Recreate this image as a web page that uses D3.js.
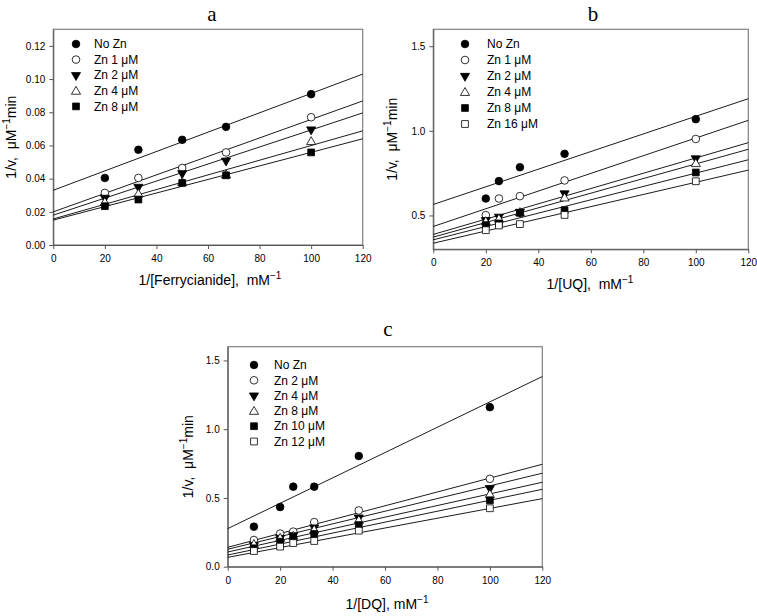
<!DOCTYPE html>
<html>
<head>
<meta charset="utf-8">
<script src="https://cdn.jsdelivr.net/npm/d3@7"></script>
<style>
  html, body { margin: 0; padding: 0; background: #fff; }
  svg { display: block; }
  text { white-space: pre; }
</style>
</head>
<body>
<svg id="chart" width="757" height="616"></svg>
<script>
// ---------- Panel a : Ferrycianide ----------
const aX = [20, 33, 50, 67, 100];
const aNames = ["No Zn", "Zn 1 μM", "Zn 2 μM", "Zn 4 μM", "Zn 8 μM"];
const aNoZn = [0.0404, 0.0574, 0.0634, 0.0712, 0.0909];
const aZn1 = [0.0314, 0.0404, 0.0464, 0.0558, 0.0770];
const aZn2 = [0.0284, 0.0350, 0.0432, 0.0508, 0.0696];
const aZn4 = [0.0260, 0.0310, 0.0380, 0.0425, 0.0626];
const aZn8 = [0.0234, 0.0274, 0.0374, 0.0420, 0.0558];
const aIntercepts = [0.0330, 0.0200, 0.0180, 0.0157, 0.0150];
const aAt120 = [0.1030, 0.0868, 0.0796, 0.0688, 0.0640];
const aYTicks = [0.00, 0.02, 0.04, 0.06, 0.08, 0.10, 0.12];

// ---------- Panel b : UQ ----------
const bX = [20, 25, 33, 50, 100];
const bNames = ["No Zn", "Zn 1 μM", "Zn 2 μM", "Zn 4 μM", "Zn 8 μM", "Zn 16 μM"];
const bNoZn = [0.600, 0.703, 0.785, 0.864, 1.069];
const bZn1 = [0.502, 0.600, 0.614, 0.707, 0.952];
const bZn2 = [0.472, 0.492, 0.521, 0.630, 0.837];
const bZn4 = [0.466, 0.482, 0.520, 0.606, 0.809];
const bZn8 = [0.443, 0.453, 0.515, 0.531, 0.754];
const bZn16 = [0.413, 0.441, 0.449, 0.503, 0.702];
const bIntercepts = [0.565, 0.435, 0.388, 0.372, 0.356, 0.336];
const bAt120 = [1.190, 1.062, 0.930, 0.891, 0.829, 0.768];
const bYTicks = [0.5, 1.0, 1.5];

// ---------- Panel c : DQ ----------
const cX = [10, 20, 25, 33, 50, 100];
const cNames = ["No Zn", "Zn 2 μM", "Zn 4 μM", "Zn 8 μM", "Zn 10 μM", "Zn 12 μM"];
const cNoZn = [0.291, 0.434, 0.582, 0.582, 0.805, 1.160];
const cZn2 = [0.194, 0.241, 0.255, 0.324, 0.409, 0.639];
const cZn4 = [0.156, 0.209, 0.228, 0.285, 0.357, 0.571];
const cZn8 = [0.165, 0.210, 0.225, 0.270, 0.340, 0.529];
const cZn10 = [0.134, 0.182, 0.218, 0.238, 0.303, 0.483];
const cZn12 = [0.114, 0.146, 0.172, 0.187, 0.262, 0.425];
const cIntercepts = [0.277, 0.141, 0.127, 0.107, 0.085, 0.068];
const cAt120 = [1.383, 0.745, 0.680, 0.614, 0.563, 0.495];
const cYTicks = [0.0, 0.5, 1.0, 1.5];

const xTicks = [0, 20, 40, 60, 80, 100, 120];
const xDomain = [0, 120];

// marker styles per series index
const markers = [
  { type: d3.symbolCircle, fill: "#000", size: 46 },
  { type: d3.symbolCircle, fill: "#fff", size: 46 },
  { type: "down", fill: "#000", size: 36 },
  { type: "up", fill: "#fff", size: 36 },
  { type: d3.symbolSquare, fill: "#000", size: 46 },
  { type: d3.symbolSquare, fill: "#fff", size: 46 }
];

const panels = [
  { title: "a", xs: aX, names: aNames, series: [aNoZn, aZn1, aZn2, aZn4, aZn8],
    icpt: aIntercepts, end: aAt120, yDomain: [0, 0.13], yTicks: aYTicks, yFmt: ".2f",
    left: 53.3, right: 362.7, top: 29.3, bottom: 245,
    titleX: 212, titleY: 21, xLabel: "1/[Ferrycianide],  mM", xLabelX: 210, xLabelY: 285,
    yLabelX: 16, legX: 76, legTextX: 94, legY: 44, legStep: 15.6 },
  { title: "b", xs: bX, names: bNames, series: [bNoZn, bZn1, bZn2, bZn4, bZn8, bZn16],
    icpt: bIntercepts, end: bAt120, yDomain: [0.3, 1.6], yTicks: bYTicks, yFmt: ".1f",
    left: 433.3, right: 748.3, top: 29.3, bottom: 249.3,
    titleX: 593, titleY: 21, xLabel: "1/[UQ],  mM", xLabelX: 590, xLabelY: 289,
    yLabelX: 397, legX: 465, legTextX: 487, legY: 44, legStep: 16 },
  { title: "c", xs: cX, names: cNames, series: [cNoZn, cZn2, cZn4, cZn8, cZn10, cZn12],
    icpt: cIntercepts, end: cAt120, yDomain: [0, 1.6], yTicks: cYTicks, yFmt: ".1f",
    left: 227.7, right: 542.3, top: 346.7, bottom: 566.7,
    titleX: 388, titleY: 336, xLabel: "1/[DQ], mM", xLabelX: 387, xLabelY: 609,
    yLabelX: 193, legX: 254, legTextX: 274, legY: 365, legStep: 15.3 }
];

const svg = d3.select("#chart").style("font-family", "'Liberation Sans', Arial, sans-serif");

function symbolPath(m) {
  if (m.type === "up" || m.type === "down") return d3.symbol(d3.symbolTriangle, m.size)();
  return d3.symbol(m.type, m.size)();
}
function markerTransform(m, px, py) {
  if (m.type === "down") return `translate(${px},${py}) rotate(180)`;
  if (m.type === "up") return `translate(${px},${py + 0.8})`;
  return `translate(${px},${py})`;
}

panels.forEach(p => {
  const x = d3.scaleLinear(xDomain, [p.left, p.right]);
  const y = d3.scaleLinear(p.yDomain, [p.bottom, p.top]);
  const g = svg.append("g");

  // title
  g.append("text").attr("x", p.titleX).attr("y", p.titleY)
    .attr("text-anchor", "middle")
    .style("font-family", "'Liberation Serif', 'Times New Roman', serif")
    .style("font-size", "21px").text(p.title);

  // frame
  g.append("rect").attr("x", p.left).attr("y", p.top)
    .attr("width", p.right - p.left).attr("height", p.bottom - p.top)
    .attr("fill", "none").attr("stroke", "#808080").attr("stroke-width", 1.2);

  // axes
  const xa = g.append("g").attr("transform", `translate(0,${p.bottom})`)
    .call(d3.axisBottom(x).tickValues(xTicks).tickSize(4).tickPadding(6).tickSizeOuter(0));
  const ya = g.append("g").attr("transform", `translate(${p.left},0)`)
    .call(d3.axisLeft(y).tickValues(p.yTicks).tickFormat(d3.format(p.yFmt)).tickSize(4).tickPadding(4).tickSizeOuter(0));
  [xa, ya].forEach(a => {
    a.select(".domain").attr("stroke", "#555");
    a.selectAll(".tick line").attr("stroke", "#555");
    a.selectAll("text").style("font-size", "10px").style("font-family", "'Liberation Sans', Arial, sans-serif").attr("fill", "#000");
  });

  // fitted lines
  p.icpt.forEach((b0, i) => {
    g.append("line")
      .attr("x1", x(0)).attr("y1", y(b0))
      .attr("x2", x(120)).attr("y2", y(p.end[i]))
      .attr("stroke", "#000").attr("stroke-width", 0.9);
  });

  // points
  p.series.forEach((vals, i) => {
    const m = markers[i];
    g.append("g").selectAll("path").data(vals).join("path")
      .attr("d", symbolPath(m))
      .attr("transform", (v, j) => markerTransform(m, x(p.xs[j]), y(v)))
      .attr("fill", m.fill).attr("stroke", "#000").attr("stroke-width", 0.8);
  });

  // legend
  p.names.forEach((nm, i) => {
    const m = markers[i];
    const ly = p.legY + i * p.legStep;
    g.append("path").attr("d", symbolPath(m))
      .attr("transform", markerTransform(m, p.legX, ly))
      .attr("fill", m.fill).attr("stroke", "#000").attr("stroke-width", 0.8);
    g.append("text").attr("x", p.legTextX).attr("y", ly + 4.2)
      .style("font-size", "12px").text(nm);
  });

  // x label with superscript
  const xl = g.append("text").attr("x", p.xLabelX).attr("y", p.xLabelY)
    .attr("text-anchor", "middle").style("font-size", "14px");
  xl.append("tspan").text(p.xLabel);
  xl.append("tspan").attr("dy", -6).style("font-size", "10px").text("−1");

  // y label
  const cy = (p.top + p.bottom) / 2;
  const yl = g.append("text").attr("transform", `translate(${p.yLabelX},${cy}) rotate(-90)`)
    .attr("text-anchor", "middle").style("font-size", "14px");
  yl.append("tspan").text("1/v,  μM");
  yl.append("tspan").attr("dy", -6).style("font-size", "10px").text("−1");
  yl.append("tspan").attr("dy", 6).text("min");
});
</script>
</body>
</html>
